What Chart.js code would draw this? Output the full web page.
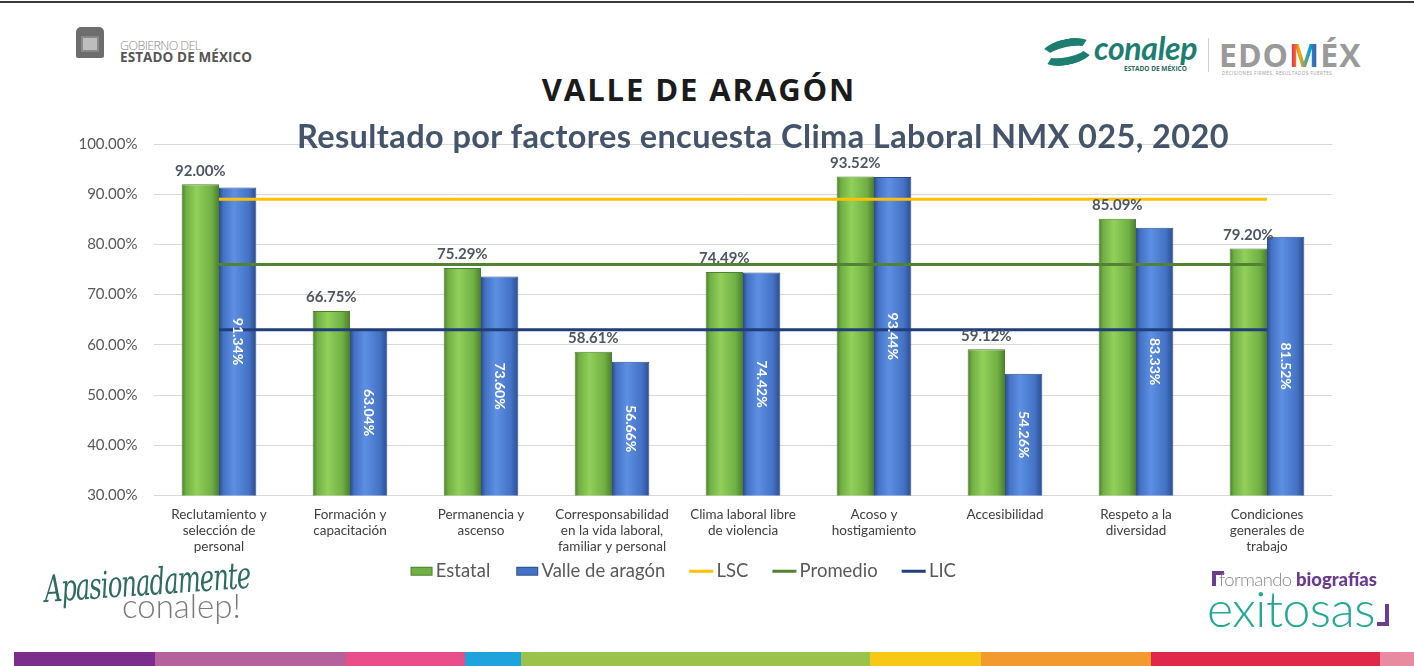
<!DOCTYPE html>
<html lang="es">
<head>
<meta charset="utf-8">
<title>Valle de Aragón - Clima Laboral</title>
<script src="https://cdn.jsdelivr.net/npm/chart.js@4.4.1/dist/chart.umd.min.js"></script>
<style>
  html, body { margin: 0; padding: 0; background: #fff; }
  body { width: 1414px; height: 666px; position: relative; overflow: hidden; font-family: Lato, "Open Sans", sans-serif; }
  .topline { position: absolute; left: 0; top: 1px; width: 1414px; height: 2px; background: #3a3a3a; }
  .abs { position: absolute; white-space: nowrap; }
  #chartWrap { position: absolute; left: 16px; top: 110px; width: 1398px; height: 480px; }
  .emblem { left: 76px; top: 27px; width: 28px; height: 31px; background: #6d6d6d; border-radius: 5px 5px 2px 2px; }
  .emblem::after { content: ""; position: absolute; left: 5px; top: 9px; width: 18px; height: 16px; background: #bdbdbd; border: 2px solid #8a8a8a; box-sizing: border-box; }
  .gob1 { left: 120px; top: 37px; font: 300 12.5px "Open Sans", sans-serif; color: #8a8a8a; letter-spacing: -0.6px; }
  .gob2 { left: 120px; top: 48px; font: 700 13.5px "Open Sans", sans-serif; color: #555; letter-spacing: 0.1px; }
  .swirl { left: 1040px; top: 39px; width: 54px; height: 26px; border-radius: 50%; border: 8px solid #1d7d70; border-left-color: transparent; border-right-color: transparent; transform: rotate(-12deg); box-sizing: border-box; }
  .conalep { left: 1094px; top: 28px; font: italic 700 32px Lato, sans-serif; color: #1d7d70; letter-spacing: -0.3px; }
  .conalepSub { left: 1124px; top: 64px; font: 700 6.5px "Open Sans", sans-serif; color: #2a6a60; }
  .sep { left: 1208px; top: 38px; width: 1px; height: 34px; background: #cfcfcf; }
  .edomex { left: 1219px; top: 33px; font: 700 32px "Open Sans", sans-serif; color: #9a9a9a; letter-spacing: 1px; }
  .edomex span { background: linear-gradient(90deg, #e2007a, #f7a600, #00a3da, #7b2d8b); -webkit-background-clip: text; background-clip: text; color: transparent; }
  .edoSub { left: 1222px; top: 70px; font: 400 4.5px "Open Sans", sans-serif; color: #9a9a9a; letter-spacing: 0.5px; }
  .mainTitle { left: 0; top: 68px; width: 1398px; text-align: center; font: 700 31px "Open Sans", sans-serif; color: #1b1b1b; letter-spacing: 1.9px; }
  .chartTitle { left: 160px; top: 116px; width: 1206px; text-align: center; font: 700 32.5px Lato, sans-serif; color: #44546a; letter-spacing: 0.4px; }
  .apas { left: 46px; top: 568px; font: italic 400 37px "DejaVu Serif", serif; color: #2f6b62; transform: rotate(-4deg) scaleX(0.66); transform-origin: left bottom; letter-spacing: -1.5px; }
  .conalepBig { left: 122px; top: 585px; font: 300 33px Lato, sans-serif; color: #7a7a7a; }
  .bracketTL { left: 1212px; top: 571px; height: 15px; width: 12px; border-left: 4px solid #6b3b8f; border-top: 4px solid #6b3b8f; box-sizing: border-box; }
  .formando { left: 1219px; top: 568px; font: 300 18.5px Lato, sans-serif; color: #8a8a8a; letter-spacing: -0.6px; }
  .formando b { font-weight: 900; color: #6b3b8f; letter-spacing: 0; }
  .exitosas { left: 1207px; top: 578px; font: 300 50px Lato, sans-serif; color: #23a898; letter-spacing: -0.5px; }
  .bracketBR { left: 1377px; top: 604px; height: 22px; width: 12px; border-right: 4px solid #6b3b8f; border-bottom: 4px solid #6b3b8f; box-sizing: border-box; }
  .stripe { position: absolute; top: 652px; height: 14px; }
</style>
</head>
<body>
<div class="topline"></div>

<div class="abs emblem"></div>
<div class="abs gob1">GOBIERNO DEL</div>
<div class="abs gob2">ESTADO DE MÉXICO</div>

<div class="abs swirl"></div>
<div class="abs conalep">conalep</div>
<div class="abs conalepSub">ESTADO DE MÉXICO</div>
<div class="abs sep"></div>
<div class="abs edomex">EDO<span>M</span>ÉX</div>
<div class="abs edoSub">DECISIONES FIRMES, RESULTADOS FUERTES</div>

<div class="abs mainTitle">VALLE DE ARAGÓN</div>

<div id="chartWrap"><canvas id="climaChart"></canvas></div>
<div class="abs chartTitle">Resultado por factores encuesta Clima Laboral NMX 025, 2020</div>

<div class="abs apas">Apasionadamente</div>
<div class="abs conalepBig">conalep!</div>

<div class="abs bracketTL"></div>
<div class="abs formando">formando <b>biografías</b></div>
<div class="abs exitosas">exitosas</div>
<div class="abs bracketBR"></div>

<div id="stripes"></div>

<script>
const factores = [
  ['Reclutamiento y', 'selección de', 'personal'],
  ['Formación y', 'capacitación'],
  ['Permanencia y', 'ascenso'],
  ['Corresponsabilidad', 'en la vida laboral,', 'familiar y personal'],
  ['Clima laboral libre', 'de violencia'],
  ['Acoso y', 'hostigamiento'],
  ['Accesibilidad'],
  ['Respeto a la', 'diversidad'],
  ['Condiciones', 'generales de', 'trabajo']
];

const estatal = [92.00, 66.75, 75.29, 58.61, 74.49, 93.52, 59.12, 85.09, 79.20];
const valleAragon = [91.34, 63.04, 73.60, 56.66, 74.42, 93.44, 54.26, 83.33, 81.52];
const lsc = [89, 89, 89, 89, 89, 89, 89, 89, 89];
const promedio = [76, 76, 76, 76, 76, 76, 76, 76, 76];
const lic = [63, 63, 63, 63, 63, 63, 63, 63, 63];

const yTicks = [30, 40, 50, 60, 70, 80, 90, 100];

// bottom colour band of the slide
const stripeColors = ['#7b2d8b', '#b5619e', '#e94e8a', '#1fa3dc', '#9bc24a', '#f7c916', '#f39a2f', '#e0294a', '#e88aa0'];
const stripeEdges = [14, 155, 346, 465, 521, 870, 981, 1151, 1380, 1414];
stripeColors.forEach((c, i) => {
  const d = document.createElement('div');
  d.className = 'stripe';
  d.style.left = stripeEdges[i] + 'px';
  d.style.width = (stripeEdges[i + 1] - stripeEdges[i]) + 'px';
  d.style.background = c;
  document.getElementById('stripes').appendChild(d);
});

const palette = {
  green: { dark: '#4c7d2c', mid: '#70b044', light: '#92d05a', border: '#4f7f30' },
  blue: { dark: '#2a4c8e', mid: '#4472c4', light: '#5d8fe3', border: '#2f4f8f' }
};

// legend swatches: wide canvas, mark drawn at the right so the blank left part spaces the items
function legendSwatch(kind, color, border) {
  const c = document.createElement('canvas');
  c.width = 60; c.height = 12;
  const g = c.getContext('2d');
  if (kind === 'box') {
    g.fillStyle = color;
    g.fillRect(31, 2, 22, 9);
    g.strokeStyle = border;
    g.lineWidth = 1;
    g.strokeRect(31.5, 2.5, 21, 8);
  } else {
    g.fillStyle = color;
    g.fillRect(29, 5, 24, 3);
  }
  return c;
}

const swatches = [
  legendSwatch('box', palette.green.mid, palette.green.border),
  legendSwatch('box', palette.blue.mid, palette.blue.border),
  legendSwatch('line', '#ffc000'),
  legendSwatch('line', '#548235'),
  legendSwatch('line', '#203f7a')
];

const cylinderBars = {
  id: 'cylinderBars',
  beforeDatasetsDraw(chart) {
    const ctx = chart.ctx;
    chart.data.datasets.forEach((ds, di) => {
      if (ds.type !== 'bar') return;
      const p = di === 0 ? palette.green : palette.blue;
      chart.getDatasetMeta(di).data.forEach(el => {
        const x0 = el.x - el.width / 2;
        const x1 = el.x + el.width / 2;
        const grad = ctx.createLinearGradient(x0, 0, x1, 0);
        grad.addColorStop(0, p.dark);
        grad.addColorStop(0.12, p.mid);
        grad.addColorStop(0.4, p.light);
        grad.addColorStop(0.8, p.mid);
        grad.addColorStop(1, p.dark);
        el.options = Object.assign({}, el.options, { backgroundColor: grad });
      });
    });
  }
};

const valueLabels = {
  id: 'valueLabels',
  afterDatasetsDraw(chart) {
    const ctx = chart.ctx;
    const bottom = chart.chartArea.bottom;
    ctx.save();
    chart.getDatasetMeta(0).data.forEach((el, i) => {
      ctx.font = 'bold 15px Lato, sans-serif';
      ctx.fillStyle = '#4f5663';
      ctx.textAlign = 'center';
      ctx.textBaseline = 'bottom';
      ctx.fillText(estatal[i].toFixed(2) + '%', el.x, el.y - 6);
    });
    chart.getDatasetMeta(1).data.forEach((el, i) => {
      const base = Math.min(el.base, bottom);
      ctx.save();
      ctx.translate(el.x, (el.y + base) / 2);
      ctx.rotate(Math.PI / 2);
      ctx.font = 'bold 14px Lato, sans-serif';
      ctx.fillStyle = '#ffffff';
      ctx.textAlign = 'center';
      ctx.textBaseline = 'middle';
      ctx.fillText(valleAragon[i].toFixed(2) + '%', 0, 0);
      ctx.restore();
    });
    ctx.restore();
  }
};

new Chart(document.getElementById('climaChart'), {
  data: {
    labels: factores,
    datasets: [
      { type: 'bar', label: 'Estatal', data: estatal, backgroundColor: palette.green.mid, borderColor: palette.green.border, borderWidth: 1, order: 2 },
      { type: 'bar', label: 'Valle de aragón', data: valleAragon, backgroundColor: palette.blue.mid, borderColor: palette.blue.border, borderWidth: 1, order: 2 },
      { type: 'line', label: 'LSC', data: lsc, borderColor: '#ffc000', borderWidth: 3, pointRadius: 0, order: 1 },
      { type: 'line', label: 'Promedio', data: promedio, borderColor: '#548235', borderWidth: 3, pointRadius: 0, order: 1 },
      { type: 'line', label: 'LIC', data: lic, borderColor: '#203f7a', borderWidth: 3, pointRadius: 0, order: 1 }
    ]
  },
  options: {
    responsive: true,
    maintainAspectRatio: false,
    animation: false,
    datasets: { bar: { barPercentage: 1, categoryPercentage: 0.57 } },
    layout: { padding: { top: 34, right: 81.5, left: 0, bottom: 0 } },
    plugins: {
      title: { display: false },
      tooltip: { enabled: false },
      legend: {
        position: 'bottom',
        labels: {
          usePointStyle: true,
          pointStyleWidth: 34,
          boxHeight: 12,
          padding: 8,
          color: '#595959',
          font: { family: 'Lato, sans-serif', size: 18.5 },
          generateLabels(chart) {
            return chart.data.datasets.map((ds, i) => ({
              text: ds.label,
              pointStyle: swatches[i],
              fontColor: '#595959',
              lineWidth: 0,
              datasetIndex: i,
              hidden: false
            }));
          }
        }
      }
    },
    scales: {
      x: {
        offset: true,
        grid: { display: false, drawTicks: false },
        border: { display: false },
        ticks: {
          autoSkip: false,
          maxRotation: 0,
          padding: 11,
          color: '#404040',
          font: { family: 'Lato, sans-serif', size: 13.5 },
          lineHeight: 1.15
        },
        afterFit(scale) { scale.height = 58; }
      },
      y: {
        min: 30,
        max: 100,
        grid: { color: '#d9d9d9', drawTicks: false },
        border: { display: false },
        afterBuildTicks(scale) { scale.ticks = yTicks.map(v => ({ value: v })); },
        ticks: {
          padding: 16,
          color: '#595959',
          font: { family: 'Lato, sans-serif', size: 15 },
          callback: v => v.toFixed(2) + '%'
        },
        afterFit(scale) { scale.width = 137.5; }
      }
    }
  },
  plugins: [cylinderBars, valueLabels]
});
</script>
</body>
</html>
